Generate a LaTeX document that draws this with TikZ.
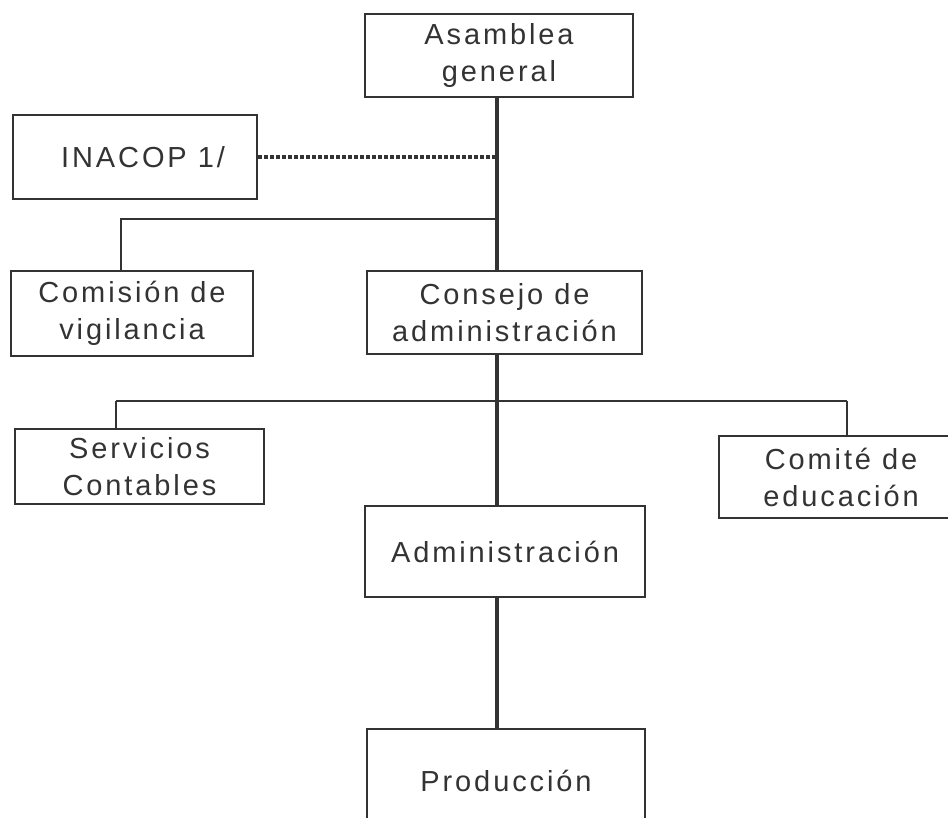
\documentclass[tikz,border=0pt]{standalone}
\usepackage{fontspec}
\setmainfont{Liberation Sans}[LetterSpace=10]
\usetikzlibrary{calc}
\definecolor{tinta}{HTML}{333333}
\tikzset{
  caja/.style={draw=tinta,line width=1pt,text=tinta,align=center,inner sep=0pt,
    font=\fontsize{14.5}{18.5}\selectfont},
  linea/.style={draw=tinta,line width=1.1pt},
  tronco/.style={draw=tinta,line width=1.6pt},
  punteada/.style={draw=tinta,line width=2.4pt,dash pattern=on 2.2pt off 0.8pt}
}
\begin{document}
\begin{tikzpicture}[x=0.5pt,y=-0.5pt]
\useasboundingbox (0,0) rectangle (948,818);
% cajas
\node[caja,minimum width=134pt,minimum height=41.5pt] (asam) at (499,55.5) {Asamblea\\general};
\node[caja,minimum width=122pt,minimum height=42pt] (inacop) at (135,157) {\hspace*{8pt}INACOP 1/};
\node[caja,minimum width=121pt,minimum height=42.5pt] (comision) at (132,313.5) {Comisión de\\vigilancia};
\node[caja,minimum width=137.5pt,minimum height=41.5pt] (consejo) at (504.5,312.5) {Consejo de\\administración};
\node[caja,minimum width=124.5pt,minimum height=37.5pt] (servicios) at (139.5,466.5) {Servicios\\Contables};
\node[caja,minimum width=122pt,minimum height=41pt] (comite) at (841,477) {Comité de\\educación};
\node[caja,minimum width=140pt,minimum height=45.5pt] (admin) at (505,551.5) {Administración};
\node[caja,minimum width=139pt,minimum height=52pt] (prod) at (506,781) {Producción};
% lineas
\coordinate (tr) at (497,0);
\coordinate (r1) at (0,219);
\coordinate (r2) at (0,401);
\draw[tronco] (tr |- asam.south) -- (tr |- consejo.north);
\draw[punteada] (inacop.east) -- (inacop.east -| tr);
\draw[linea] (tr |- r1) -- (121,219) coordinate (c1) -- (c1 |- comision.north);
\draw[tronco] (tr |- consejo.south) -- (tr |- admin.north);
\draw[linea] (116,401) coordinate (c2) -- (847,401) coordinate (c3);
\draw[linea] (c2) -- (c2 |- servicios.north);
\draw[linea] (c3) -- (c3 |- comite.north);
\draw[tronco] (tr |- admin.south) -- (tr |- prod.north);
\end{tikzpicture}
\end{document}
